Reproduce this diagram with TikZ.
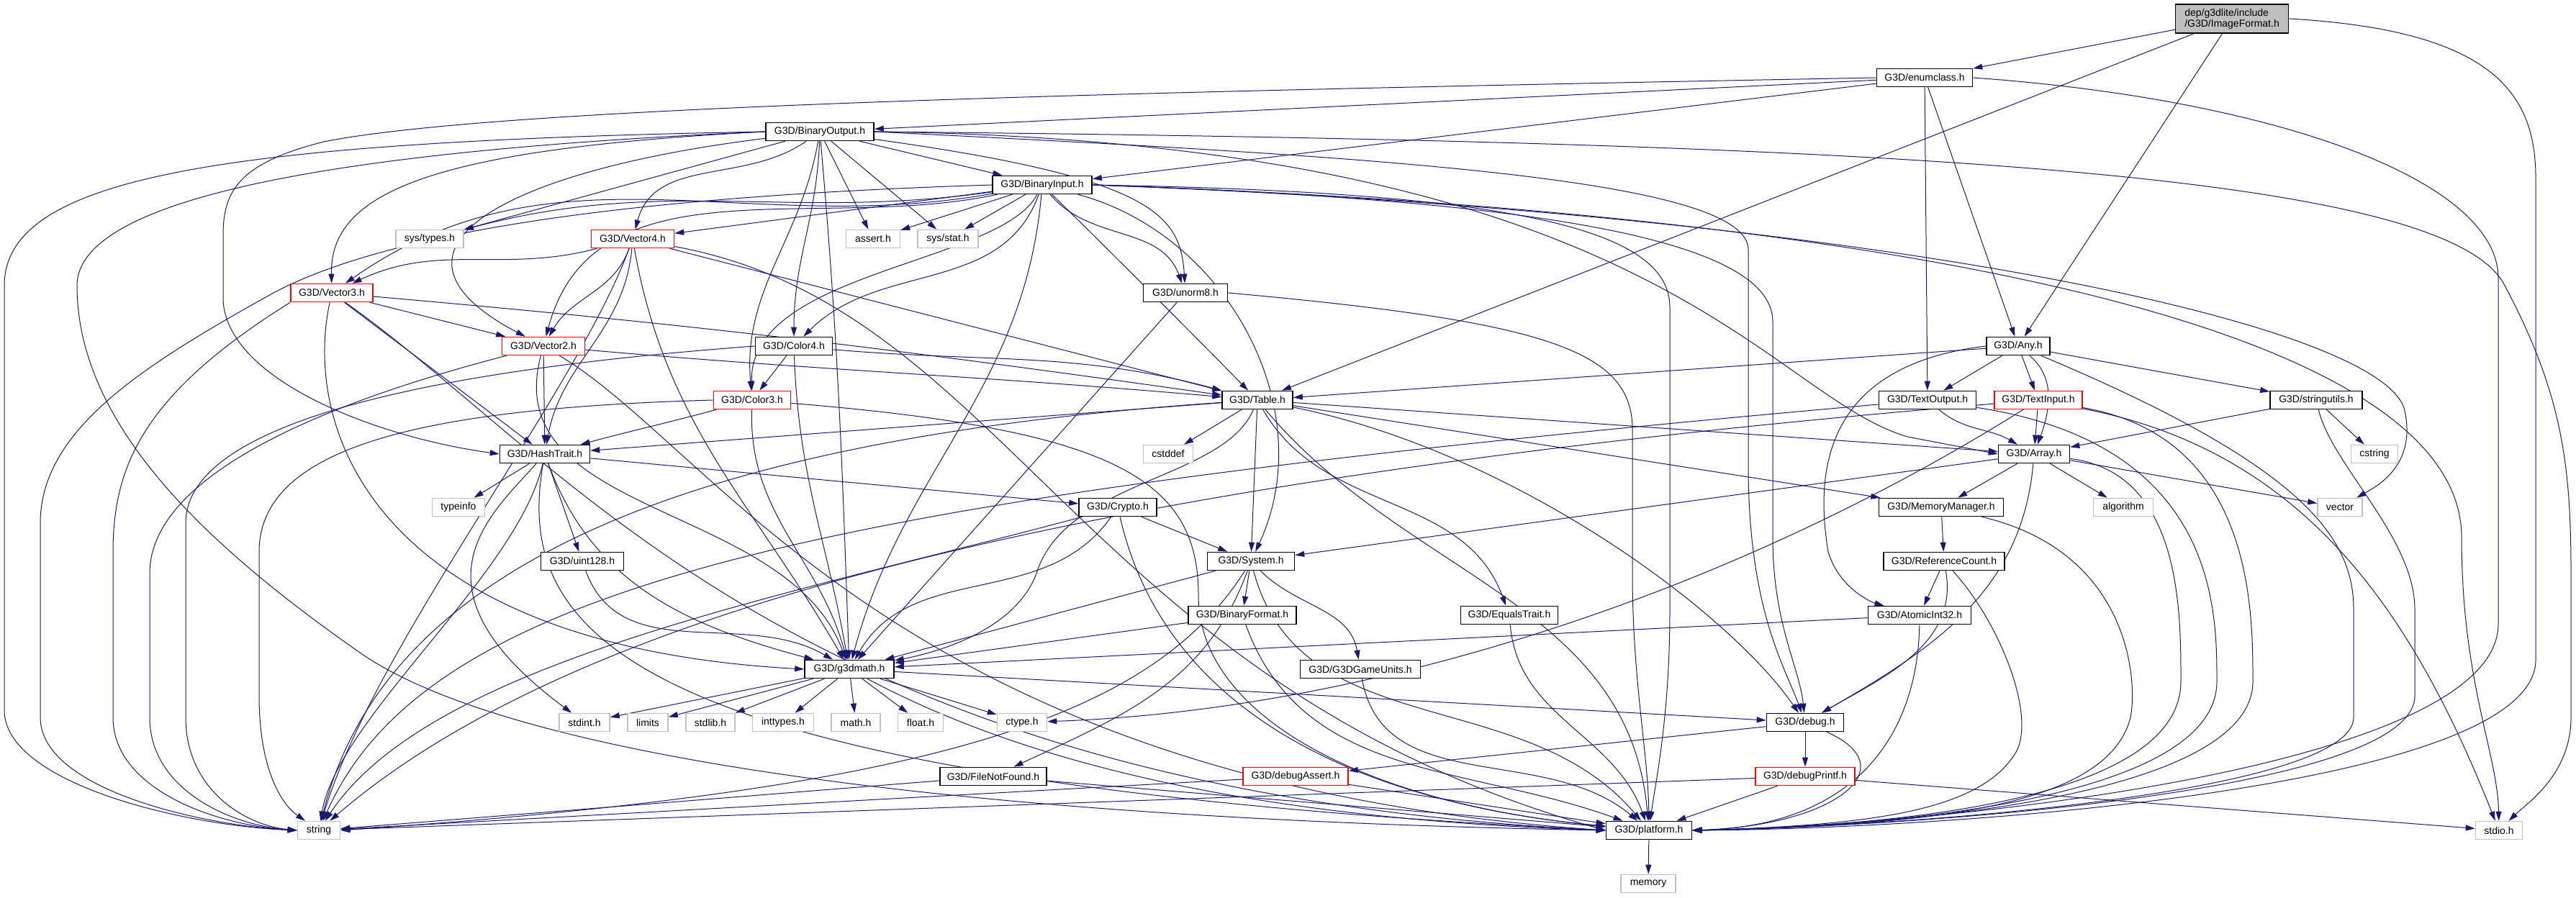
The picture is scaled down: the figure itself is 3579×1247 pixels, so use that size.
\documentclass[tikz,border=0pt]{standalone}
\usepackage{fontspec}
\setmainfont{Liberation Sans}
\usetikzlibrary{arrows.meta,backgrounds}
\definecolor{edgeblue}{HTML}{191970}
\definecolor{extgray}{HTML}{BFBFBF}
\tikzset{
  hdr/.style={draw=black, fill=white, line width=0.8pt, inner sep=0pt, minimum height=12.5pt, font=\fontsize{7pt}{7.5pt}\selectfont},
  trunc/.style={hdr, draw=red},
  ext/.style={hdr, draw=extgray},
  rootbox/.style={hdr, fill=extgray, minimum height=20pt, align=left},
  dep/.style={draw=edgeblue, line width=0.5pt, -{Triangle[length=6.5pt,width=4pt]}},
}
\begin{document}
\begin{tikzpicture}[x=0.5pt, y=0.5pt]
\useasboundingbox (0,0) rectangle (3579,1247);

% Root and first level
\node[rootbox, minimum width=78.5pt] (root) at (3101,1221) {dep/g3dlite/include\\/G3D/ImageFormat.h};
\node[hdr, minimum width=66.5pt] (enumcls) at (2674,1139) {G3D/enumclass.h};
\node[hdr, minimum width=75pt] (binout) at (1139,1064) {G3D/BinaryOutput.h};
\node[hdr, minimum width=69pt] (binin) at (1448,990) {G3D/BinaryInput.h};

% Vectors, colours
\node[ext, minimum width=47pt] (systypes) at (597,915) {sys/types.h};
\node[trunc, minimum width=57.5pt] (vecfour) at (879,915) {G3D/Vector4.h};
\node[ext, minimum width=37.5pt] (assrt) at (1213,915) {assert.h};
\node[ext, minimum width=42pt] (sysstat) at (1317,915) {sys/stat.h};
\node[trunc, minimum width=57pt] (vecthree) at (461,840) {G3D/Vector3.h};
\node[hdr, minimum width=58.5pt] (unorm) at (1647,840) {G3D/unorm8.h};
\node[trunc, minimum width=57.5pt] (vectwo) at (755,766) {G3D/Vector2.h};
\node[hdr, minimum width=53.5pt] (colfour) at (1103,766) {G3D/Color4.h};
\node[hdr, minimum width=44pt] (anyh) at (2804,766) {G3D/Any.h};
\node[trunc, minimum width=53.5pt] (colthree) at (1045,691) {G3D/Color3.h};
\node[hdr, minimum width=49pt] (table) at (1747,691) {G3D/Table.h};
\node[hdr, minimum width=67.5pt] (textout) at (2678,691) {G3D/TextOutput.h};
\node[trunc, minimum width=61pt] (textin) at (2832,691) {G3D/TextInput.h};
\node[hdr, minimum width=64pt] (strutil) at (3218,691) {G3D/stringutils.h};

% Middle rows
\node[hdr, minimum width=62.5pt] (hashtr) at (757,616) {G3D/HashTrait.h};
\node[ext, minimum width=34.5pt] (cstddef) at (1623,616) {cstddef};
\node[hdr, minimum width=49.5pt] (arrayh) at (2826,616) {G3D/Array.h};
\node[ext, minimum width=32.5pt] (cstring) at (3299,616) {cstring};
\node[ext, minimum width=36.5pt] (typeinfo) at (637,542) {typeinfo};
\node[hdr, minimum width=54pt] (crypto) at (1553,542) {G3D/Crypto.h};
\node[hdr, minimum width=86.5pt] (memmgr) at (2697,542) {G3D/MemoryManager.h};
\node[ext, minimum width=41.5pt] (algorithm) at (2950,542) {algorithm};
\node[ext, minimum width=31pt] (vectorh) at (3251,542) {vector};
\node[hdr, minimum width=57.5pt] (uint) at (809,467) {G3D/uint128.h};
\node[hdr, minimum width=60.5pt] (systemh) at (1738,467) {G3D/System.h};
\node[hdr, minimum width=84pt] (refcnt) at (2701,467) {G3D/ReferenceCount.h};
\node[hdr, minimum width=75pt] (binfmt) at (1726,392) {G3D/BinaryFormat.h};
\node[hdr, minimum width=67.5pt] (eqtrait) at (2097,392) {G3D/EqualsTrait.h};
\node[hdr, minimum width=71.5pt] (atomic) at (2667,392) {G3D/AtomicInt32.h};
\node[hdr, minimum width=62pt] (gmath) at (1180,317) {G3D/g3dmath.h};
\node[hdr, minimum width=83.5pt] (gunits) at (1890,317) {G3D/G3DGameUnits.h};

% System headers under g3dmath
\foreach \n/\x/\w/\t in {stdint/812/35/stdint.h, limits/900/28/limits, stdlib/987/34/stdlib.h,
    inttypes/1088/42.5/inttypes.h, mathh/1189/34/math.h, floath/1279/31.5/float.h, ctype/1420/34.5/ctype.h} {
    \node[ext, minimum width=\w pt] (\n) at (\x,243) {\t};
}
\node[hdr, minimum width=53.5pt] (debugh) at (2508,243) {G3D/debug.h};

% Bottom rows
\node[hdr, minimum width=74pt] (fnf) at (1380,168) {G3D/FileNotFound.h};
\node[trunc, minimum width=73pt] (dassert) at (1800,168) {G3D/debugAssert.h};
\node[trunc, minimum width=69pt] (dprintf) at (2508,168) {G3D/debugPrintf.h};
\node[ext, minimum width=29.5pt] (stringh) at (443,93) {string};
\node[hdr, minimum width=59.5pt] (platform) at (2291,93) {G3D/platform.h};
\node[ext, minimum width=32.5pt] (stdio) at (3472,93) {stdio.h};
\node[ext, minimum width=38pt] (memory) at (2290,19) {memory};

\begin{scope}[on background layer]
\fill[white] (0,0) rectangle (3579,1247);

% ImageFormat.h
\draw[dep] (root) -- (enumcls);
\draw[dep] (root) -- (table);
\draw[dep] (root) -- (anyh);
\draw[dep] (root.east) .. controls (3460,1205) and (3523,1120) .. (3523,1000) -- (3523,330) .. controls (3523,150) and (2700,95) .. (platform.east);

% enumclass.h
\draw[dep] (enumcls) -- (binout);
\draw[dep] (enumcls) -- (binin);
\draw[dep] (enumcls.west) .. controls (1600,1120) and (700,1100) .. (450,1050) .. controls (330,1020) and (310,980) .. (310,920) -- (310,830) .. controls (315,720) and (520,640) .. (hashtr.west);
\draw[dep] (enumcls) -- (textout);
\draw[dep] (enumcls) -- (anyh);
\draw[dep] (enumcls.east) .. controls (3150,1110) and (3471,1000) .. (3471,860) -- (3471,380) .. controls (3471,180) and (2700,100) .. (platform.east);

% BinaryOutput.h
\draw[dep] (binout) -- (binin);
\draw[dep] (binout) -- (assrt);
\draw[dep] (binout) -- (sysstat);
\draw[dep] (binout) -- (systypes);
\draw[dep] (binout) to[out=215,in=75] (vecfour);
\draw[dep] (binout.west) .. controls (600,1040) and (458,980) .. (vecthree);
\draw[dep] (binout) .. controls (700,1010) and (500,900) .. (vectwo);
\draw[dep] (binout) to[out=260,in=95] (colthree);
\draw[dep] (binout) to[out=268,in=90] (colfour);
\draw[dep] (binout) to[out=275,in=92] (gmath);
\draw[dep] (binout) .. controls (1600,1000) and (1640,950) .. (unorm);
\draw[dep] (binout.east) .. controls (1900,1030) and (2429,1000) .. (2429,900) -- (2429,600) .. controls (2429,400) and (2480,320) .. (debugh);
\draw[dep] (binout.east) .. controls (2300,1050) and (2450,700) .. (2650,640) -- (arrayh.west);
\draw[dep] (binout.east) .. controls (2600,1050) and (3400,1010) .. (3480,850) .. controls (3560,700) and (3572,600) .. (3572,450) -- (3572,250) .. controls (3572,170) and (3510,130) .. (stdio);
\draw[dep] (binout.west) .. controls (300,1050) and (6,1000) .. (6,850) -- (6,260) .. controls (6,160) and (250,100) .. (stringh.west);
\draw[dep] (binout.west) .. controls (400,1035) and (107,960) .. (107,850) .. controls (107,650) and (300,480) .. (500,340) .. controls (700,200) and (1300,110) .. (platform.west);

% BinaryInput.h
\draw[dep] (binin) -- (assrt);
\draw[dep] (binin) -- (sysstat);
\draw[dep] (binin) to[out=188,in=15] (systypes);
\draw[dep] (binin) -- (vecfour);
\draw[dep] (binin) to[out=190,in=35] (vecthree);
\draw[dep] (binin) to[out=192,in=75] (vectwo);
\draw[dep] (binin.west) .. controls (900,975) and (550,930) .. (380,840) .. controls (200,740) and (56,650) .. (56,520) -- (56,250) .. controls (56,150) and (280,100) .. (stringh.west);
\draw[dep] (binin) .. controls (1390,880) and (1040,870) .. (colthree);
\draw[dep] (binin) to[out=250,in=45] (colfour);
\draw[dep] (binin) to[out=265,in=75] (gmath);
\draw[dep] (binin) to[out=-50,in=110] (unorm);
\draw[dep] (binin) .. controls (1530,910) and (1660,780) .. (table);
\draw[dep] (binin) to[out=-15,in=65] (systemh);
\draw[dep] (binin.east) .. controls (2100,970) and (2463,920) .. (2463,800) -- (2463,500) .. controls (2463,380) and (2500,320) .. (debugh);
\draw[dep] (binin.east) .. controls (2100,980) and (2320,930) .. (2320,820) -- (2320,400) .. controls (2320,250) and (2300,160) .. (platform);
\draw[dep] (binin.east) .. controls (2600,950) and (3300,800) .. (3340,680) .. controls (3360,600) and (3300,570) .. (vectorh);
\draw[dep] (binin.east) .. controls (2700,950) and (3420,780) .. (3420,500) .. controls (3420,300) and (3470,200) .. (stdio);

% Vector4.h, Vector3.h, Vector2.h
\draw[dep] (vecfour) to[out=195,in=25] (vecthree);
\draw[dep] (vecfour) to[out=250,in=60] (vectwo);
\draw[dep] (vecfour) to[out=265,in=80] (hashtr);
\draw[dep] (vecfour) to[out=280,in=120] (gmath);
\draw[dep] (vecfour) -- (table);
\draw[dep] (vecfour) .. controls (1400,820) and (1500,300) .. (platform.west);
\draw[dep] (vecfour) .. controls (800,700) and (520,350) .. (stringh);
\draw[dep] (vecthree) -- (vectwo);
\draw[dep] (vecthree) -- (hashtr);
\draw[dep] (vecthree) .. controls (420,650) and (520,350) .. (gmath.west);
\draw[dep] (vecthree) to[out=-5,in=172] (table);
\draw[dep] (vecthree) .. controls (800,600) and (1100,150) .. (platform.west);
\draw[dep] (vecthree.south west) .. controls (200,700) and (157,600) .. (157,480) -- (157,250) .. controls (157,150) and (300,100) .. (stringh.west);
\draw[dep] (vectwo) -- (hashtr);
\draw[dep] (vectwo) to[out=255,in=110] (gmath);
\draw[dep] (vectwo) to[out=-5,in=175] (table);
\draw[dep] (vectwo) .. controls (1000,620) and (1250,160) .. (platform.west);
\draw[dep] (vectwo) .. controls (500,700) and (208,600) .. (208,450) -- (208,250) .. controls (208,150) and (320,100) .. (stringh.west);

% Color4.h, Color3.h
\draw[dep] (colfour) -- (colthree);
\draw[dep] (colfour) to[out=272,in=100] (gmath);
\draw[dep] (colfour) to[out=-5,in=165] (table);
\draw[dep] (colfour.west) .. controls (700,740) and (258,680) .. (258,520) -- (258,250) .. controls (258,150) and (340,100) .. (stringh.west);
\draw[dep] (colthree) to[out=195,in=15] (hashtr);
\draw[dep] (colthree) to[out=268,in=105] (gmath);
\draw[dep] (colthree) .. controls (1550,650) and (1665,580) .. (1665,420) .. controls (1665,250) and (1900,130) .. (platform);
\draw[dep] (colthree.west) .. controls (600,680) and (360,630) .. (360,480) -- (360,280) .. controls (360,180) and (390,130) .. (stringh);

% HashTrait.h, uint128.h, Crypto.h
\draw[dep] (hashtr) -- (typeinfo);
\draw[dep] (hashtr) -- (uint);
\draw[dep] (hashtr) -- (crypto);
\draw[dep] (hashtr) to[out=-70,in=165] (gmath);
\draw[dep] (hashtr) .. controls (680,530) and (560,430) .. (stdint);
\draw[dep] (hashtr) .. controls (710,350) and (900,160) .. (platform.west);
\draw[dep] (hashtr) .. controls (720,450) and (470,250) .. (stringh);
\draw[dep] (uint) to[out=-70,in=150] (gmath);
\draw[dep] (crypto) -- (systemh);
\draw[dep] (crypto) to[out=235,in=60] (gmath);
\draw[dep] (crypto) .. controls (1620,250) and (1900,130) .. (platform);
\draw[dep] (crypto) .. controls (1100,420) and (600,330) .. (stringh);

% System.h and below
\draw[dep] (systemh) -- (binfmt);
\draw[dep] (systemh) to[out=-45,in=100] (gunits);
\draw[dep] (systemh) -- (gmath);
\draw[dep] (systemh) to[out=250,in=25] (fnf);
\draw[dep] (systemh) .. controls (1600,250) and (1300,150) .. (stringh.east);
\draw[dep] (systemh) to[out=-75,in=130] (platform);
\draw[dep] (binfmt) -- (gmath);
\draw[dep] (binfmt) to[out=-70,in=160] (platform);
\draw[dep] (gunits) to[out=-80,in=140] (platform);
\draw[dep] (eqtrait) to[out=-85,in=110] (platform);

% Table.h
\draw[dep] (table) -- (cstddef);
\draw[dep] (table) -- (systemh);
\draw[dep] (table) to[out=-60,in=110] (eqtrait);
\draw[dep] (table) .. controls (1700,580) and (1480,580) .. (1440,450) .. controls (1410,370) and (1300,340) .. (gmath);
\draw[dep] (table) .. controls (2100,620) and (2400,400) .. (debugh);
\draw[dep] (table) to[out=-50,in=95] (platform);
\draw[dep] (table) -- (hashtr);
\draw[dep] (table) -- (arrayh);
\draw[dep] (table) -- (memmgr);
\draw[dep] (table) .. controls (1000,640) and (540,480) .. (stringh);

% unorm8.h
\draw[dep] (unorm) -- (gmath);
\draw[dep] (unorm.east) .. controls (2150,800) and (2268,760) .. (2268,650) -- (2268,450) .. controls (2268,300) and (2290,200) .. (platform);

% Any.h, TextOutput.h, TextInput.h, stringutils.h
\draw[dep] (anyh) -- (table);
\draw[dep] (anyh) -- (textout);
\draw[dep] (anyh) -- (textin);
\draw[dep] (anyh) to[out=-40,in=70] (arrayh);
\draw[dep] (anyh) -- (strutil);
\draw[dep] (anyh.west) .. controls (2540,740) and (2520,600) .. (2540,480) .. controls (2555,430) and (2600,410) .. (atomic);
\draw[dep] (anyh) .. controls (3200,600) and (3270,500) .. (3270,400) -- (3270,250) .. controls (3270,150) and (2700,100) .. (platform.east);
\draw[dep] (textout) to[out=-40,in=150] (arrayh);
\draw[dep] (textout) .. controls (1200,560) and (600,450) .. (stringh);
\draw[dep] (textout) .. controls (3080,630) and (3080,400) .. (3080,300) .. controls (3080,150) and (2700,100) .. (platform.east);
\draw[dep] (textin) -- (arrayh);
\draw[dep] (textin) .. controls (2400,420) and (1900,260) .. (ctype);
\draw[dep] (textin) .. controls (3130,640) and (3130,400) .. (3130,300) .. controls (3130,150) and (2700,100) .. (platform.east);
\draw[dep] (textin) .. controls (3200,620) and (3350,400) .. (stdio);
\draw[dep] (textin) .. controls (1500,580) and (800,400) .. (stringh);
\draw[dep] (strutil) -- (arrayh);
\draw[dep] (strutil) -- (cstring);
\draw[dep] (strutil) .. controls (3240,600) and (3355,500) .. (3355,400) -- (3355,280) .. controls (3355,150) and (2700,100) .. (platform.east);

% Array.h, MemoryManager.h, ReferenceCount.h, AtomicInt32.h
\draw[dep] (arrayh) -- (memmgr);
\draw[dep] (arrayh) -- (algorithm);
\draw[dep] (arrayh) -- (vectorh);
\draw[dep] (arrayh) -- (systemh);
\draw[dep] (arrayh) to[out=265,in=30] (debugh);
\draw[dep] (arrayh) .. controls (3030,590) and (3030,400) .. (3030,300) .. controls (3030,150) and (2700,100) .. (platform.east);
\draw[dep] (memmgr) -- (refcnt);
\draw[dep] (memmgr) .. controls (2960,480) and (2970,300) .. (2960,250) .. controls (2930,130) and (2700,100) .. (platform.east);
\draw[dep] (refcnt) -- (atomic);
\draw[dep] (refcnt) to[out=-80,in=30] (debugh);
\draw[dep] (refcnt) .. controls (2780,380) and (2830,250) .. (2800,200) .. controls (2750,120) and (2600,100) .. (platform.east);
\draw[dep] (atomic) -- (gmath);
\draw[dep] (atomic) .. controls (2665,250) and (2600,100) .. (platform.east);

% g3dmath.h
\foreach \t in {stdint, limits, stdlib, inttypes, mathh, floath, ctype, debugh} {
    \draw[dep] (gmath) -- (\t);
}
\draw[dep] (gmath) .. controls (1400,200) and (1700,110) .. (platform.west);

% debug.h and the bottom
\draw[dep] (debugh) -- (dassert);
\draw[dep] (debugh) -- (dprintf);
\draw[dep] (debugh) .. controls (2650,180) and (2550,100) .. (platform.east);
\draw[dep] (dprintf) -- (platform);
\draw[dep] (dprintf) -- (stringh);
\draw[dep] (dprintf) -- (stdio);
\draw[dep] (dassert) -- (stringh);
\draw[dep] (dassert) -- (platform);
\draw[dep] (fnf) -- (stringh);
\draw[dep] (fnf) -- (platform);
\draw[dep] (platform) -- (memory);
\end{scope}
\end{tikzpicture}
\end{document}
